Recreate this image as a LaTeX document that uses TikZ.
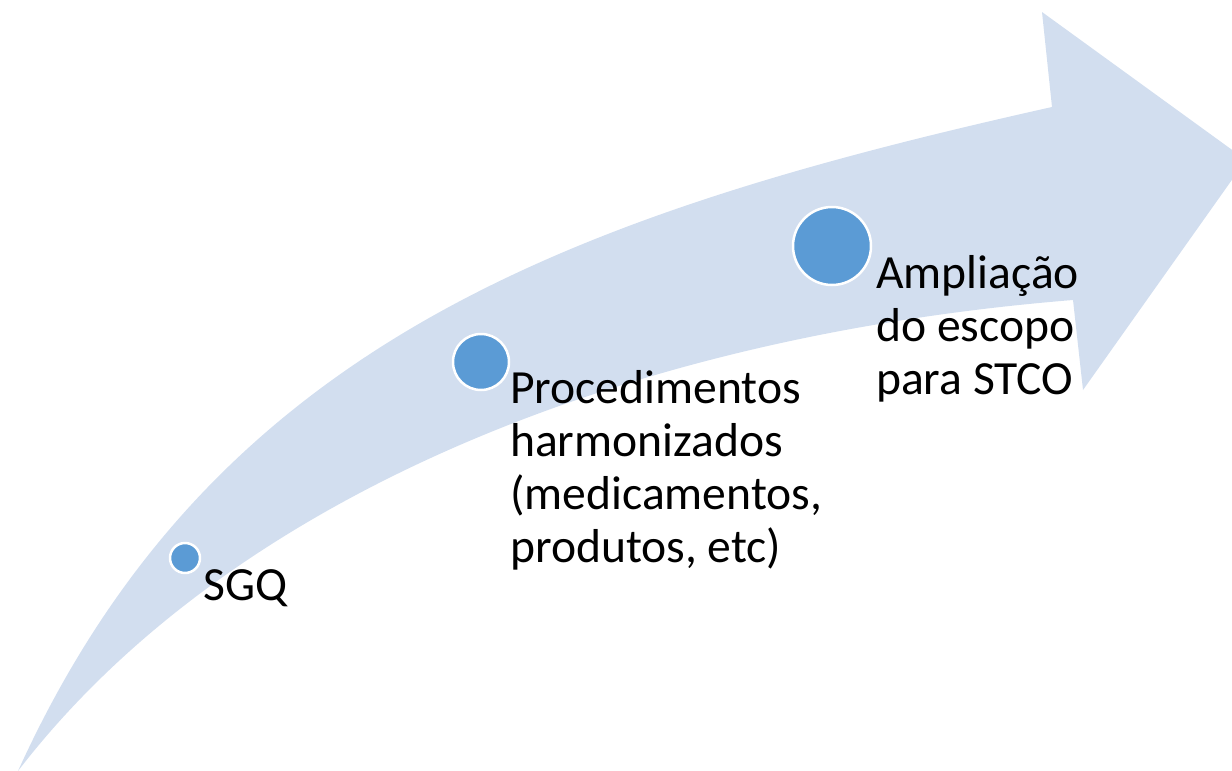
\documentclass[tikz,border=0pt]{standalone}
\usepackage{fontspec}
\setmainfont{Carlito}
\definecolor{faixa}{RGB}{210,222,239}
\definecolor{marco}{RGB}{91,155,213}
\begin{document}
\begin{tikzpicture}[x=1pt, y=-1pt, line join=round,
		etapa/.style={circle, fill=marco, draw=white, line width=2.5pt, inner sep=0pt},
		rotulo/.style={anchor=north west, align=left, inner sep=0pt, font=\fontsize{47.6}{53}\selectfont}]
	\useasboundingbox (0,0) rectangle (1232,771);
	\clip (0,0) rectangle (1232,771);
	% seta curva
	\fill[faixa] (18,771) .. controls (212,344) and (569,215) .. (1052,107)
		-- (1042,12) -- (1246,160) -- (1083,390) -- (1073,300)
		.. controls (615,337) and (224,503) .. (18,771) -- cycle;
	% marcos
	\foreach \nome/\x/\y/\r in {sgq/185/558/15, proc/481/362/28, ampl/832/246/39}{
		\node[etapa, minimum size={2*\r pt}] (\nome) at (\x,\y) {};
	}
	\node[rotulo] (tsgq) at (203,569) {SGQ};
	\node[rotulo] (tproc) at (510,370.5) {Procedimentos\\harmonizados\\(medicamentos,\\produtos, etc)};
	\node[rotulo] (tampl) at (876,255.5) {Ampliação\\do escopo\\para STCO};
\end{tikzpicture}
\end{document}
